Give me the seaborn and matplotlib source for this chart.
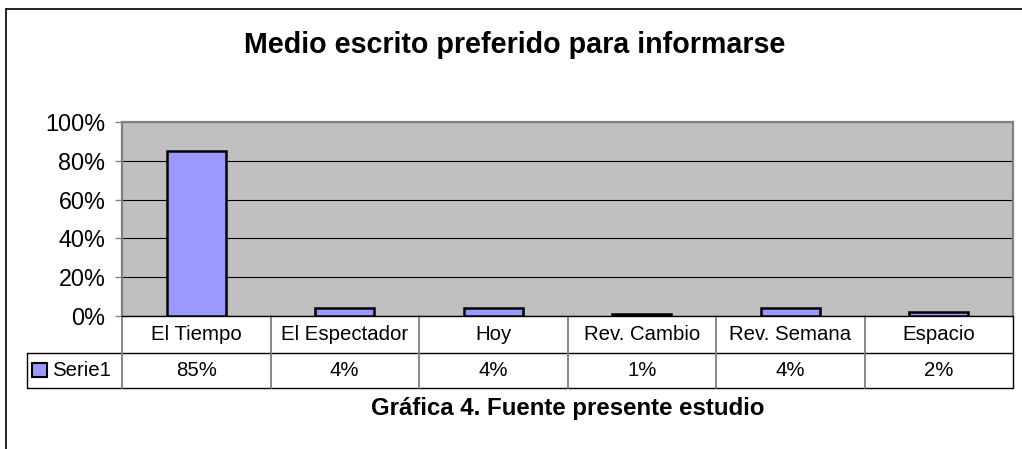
import numpy as np
import pandas as pd
import seaborn as sns
import matplotlib.pyplot as plt
import matplotlib.transforms as mtransforms
from matplotlib.lines import Line2D
from matplotlib.patches import Rectangle
from matplotlib.ticker import PercentFormatter

# --- data ---
categories = ['El Tiempo', 'El Espectador', 'Hoy', 'Rev. Cambio', 'Rev. Semana', 'Espacio']
values = [0.85, 0.04, 0.04, 0.01, 0.04, 0.02]
series_name = 'Serie1'
title = 'Medio escrito preferido para informarse'
caption = 'Gráfica 4. Fuente presente estudio'
yticks = [0, 0.2, 0.4, 0.6, 0.8, 1.0]

bar_color = '#9999FF'
plot_bg = '#C0C0C0'
gray = '#808080'

df = pd.DataFrame({'medio': categories, 'pct': values})

sns.set_theme(style='white')
plt.rcParams['font.family'] = ['Liberation Sans', 'DejaVu Sans']
plt.rcParams['text.color'] = 'black'

W, H = 1022, 449
fig = plt.figure(figsize=(W / 100, H / 100), dpi=100)
fig.patch.set_facecolor('white')

# plot area in pixels: x 122..1013, y 122..316
ax = fig.add_axes([122 / W, (H - 316) / H, 891 / W, 194 / H])
ax.set_facecolor(plot_bg)

sns.barplot(data=df, x='medio', y='pct', color=bar_color, width=0.4,
            edgecolor='black', linewidth=1.8, saturation=1, ax=ax, zorder=3)

ax.set_xlim(-0.5, len(categories) - 0.5)
ax.set_ylim(0, 1)
ax.set_yticks(yticks)
ax.yaxis.set_major_formatter(PercentFormatter(1.0, decimals=0))
ax.yaxis.grid(True, color='black', linewidth=0.8, zorder=1)
ax.set_axisbelow(True)
ax.set_xlabel('')
ax.set_ylabel('')
ax.tick_params(axis='x', bottom=False, labelbottom=False)
ax.tick_params(axis='y', left=True, length=5, width=1, color=gray,
               labelsize=16.8, pad=7, labelcolor='black')

for side in ['left', 'right', 'top']:
    ax.spines[side].set_color(gray)
    ax.spines[side].set_linewidth(1.6)
ax.spines['bottom'].set_color('black')
ax.spines['bottom'].set_linewidth(1.0)

# --- data table under the axis ---
trans = mtransforms.blended_transform_factory(ax.transData, ax.transAxes)
row1_bot = -36.5 / 194
row2_bot = -71.5 / 194
legend_left = -0.5 - 95 / 148.5
n = len(categories)

def tline(xs, ys, color='black', lw=1.0):
    ax.add_line(Line2D(xs, ys, transform=trans, color=color, lw=lw, clip_on=False))

tline([legend_left, n - 0.5], [row1_bot, row1_bot])
tline([legend_left, n - 0.5], [row2_bot, row2_bot])
tline([legend_left, legend_left], [row1_bot, row2_bot])
tline([n - 0.5, n - 0.5], [0, row2_bot])
for k in range(n):
    tline([k - 0.5, k - 0.5], [0, row2_bot], color=gray, lw=1.3)

for i, (cat, val) in enumerate(zip(categories, values)):
    ax.text(i, row1_bot / 2, cat, transform=trans, ha='center', va='center',
            fontsize=14.7, color='black')
    ax.text(i, (row1_bot + row2_bot) / 2, f'{val:.0%}', transform=trans,
            ha='center', va='center', fontsize=14.7, color='black')

# legend key inside the table
key_x = legend_left + 5 / 148.5
key_w = 15 / 148.5
key_h = 14 / 194
key_y = (row1_bot + row2_bot) / 2 - key_h / 2
ax.add_patch(Rectangle((key_x, key_y), key_w, key_h, transform=trans,
                       facecolor=bar_color, edgecolor='black', lw=1.5, clip_on=False))
ax.text(key_x + key_w + 5 / 148.5, (row1_bot + row2_bot) / 2, series_name,
        transform=trans, ha='left', va='center', fontsize=14.7, color='black')

# --- titles ---
fig.text(515 / W, 1 - 45 / H, title, ha='center', va='center',
         fontsize=20.6, fontweight='bold', color='black')
fig.text(568 / W, 1 - 409 / H, caption, ha='center', va='center',
         fontsize=17.3, fontweight='bold', color='black')

# outer chart frame (left and top visible)
fig.add_artist(Line2D([5.5 / W, 5.5 / W], [0, 1 - 9 / H], transform=fig.transFigure,
                      color='black', lw=1.2))
fig.add_artist(Line2D([5.5 / W, 1], [1 - 9 / H, 1 - 9 / H], transform=fig.transFigure,
                      color='black', lw=1.2))

fig.savefig('out.png', dpi=100)
